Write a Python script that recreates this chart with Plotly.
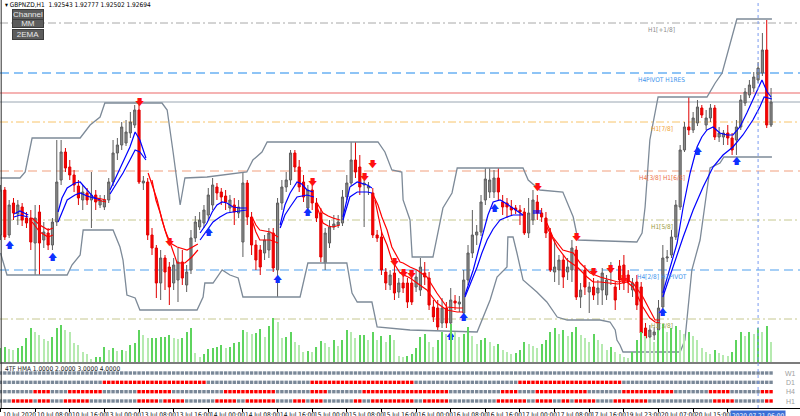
import plotly.graph_objects as go

# ---- price data (H1 bars, index 0 = 10 Jul 2020 00:00) ----
opens = [1.9135, 1.9180, 1.9135, 1.9167, 1.9156, 1.9163, 1.9152, 1.9152, 1.9127, 1.9158,
         1.9130, 1.9137, 1.9125, 1.9148, 1.9190, 1.9218, 1.9203, 1.9195, 1.9184, 1.9170,
         1.9177, 1.9170, 1.9175, 1.9165, 1.9163, 1.9170, 1.9188, 1.9217, 1.9225, 1.9227,
         1.9237, 1.9245, 1.9260, 1.9187, 1.9188, 1.9135, 1.9122, 1.9087, 1.9112, 1.9103,
         1.9087, 1.9090, 1.9108, 1.9085, 1.9100, 1.9132, 1.9143, 1.9147, 1.9155, 1.9165,
         1.9183, 1.9178, 1.9174, 1.9162, 1.9165, 1.9157, 1.9128, 1.9187, 1.9153, 1.9125,
         1.9120, 1.9117, 1.9120, 1.9137, 1.9100, 1.9167, 1.9183, 1.9190, 1.9217, 1.9203,
         1.9188, 1.9162, 1.9180, 1.9167, 1.9157, 1.9107, 1.9127, 1.9143, 1.9145, 1.9147,
         1.9173, 1.9187, 1.9210, 1.9203, 1.9185, 1.9182, 1.9177, 1.9135, 1.9133, 1.9098,
         1.9085, 1.9097, 1.9078, 1.9087, 1.9087, 1.9087, 1.9083, 1.9080, 1.9097, 1.9092,
         1.9063, 1.9062, 1.9047, 1.9062, 1.9047, 1.9069, 1.9066, 1.9057, 1.9090, 1.9117,
         1.9135, 1.9138, 1.9170, 1.9178, 1.9178, 1.9192, 1.9168, 1.9167, 1.9163, 1.9162,
         1.9160, 1.9158, 1.9137, 1.9150, 1.9168, 1.9157, 1.9152, 1.9137, 1.9098, 1.9100,
         1.9110, 1.9098, 1.9100, 1.9120, 1.9073, 1.9100, 1.9078, 1.9083, 1.9077, 1.9080,
         1.9075, 1.9098, 1.9083, 1.9104, 1.9105, 1.9095, 1.9080, 1.9088, 1.9083, 1.9042,
         1.9033, 1.9035, 1.9040, 1.9063, 1.9112, 1.9115, 1.9133, 1.9163, 1.9220, 1.9243,
         1.9240, 1.9247, 1.9262, 1.9245, 1.9252, 1.9262, 1.9233, 1.9233, 1.9237, 1.9232,
         1.9230, 1.9243, 1.9267, 1.9275, 1.9282, 1.9290, 1.9297, 1.9320, 1.9245]
highs = [1.9185, 1.9183, 1.9170, 1.9172, 1.9170, 1.9167, 1.9158, 1.9160, 1.9165, 1.9165,
         1.9148, 1.9142, 1.9152, 1.9230, 1.9230, 1.9222, 1.9210, 1.9200, 1.9190, 1.9185,
         1.9182, 1.9198, 1.9180, 1.9175, 1.9175, 1.9192, 1.9230, 1.9232, 1.9248, 1.9250,
         1.9258, 1.9265, 1.9266, 1.9194, 1.9192, 1.9142, 1.9125, 1.9120, 1.9115, 1.9108,
         1.9112, 1.9122, 1.9120, 1.9105, 1.9140, 1.9154, 1.9158, 1.9165, 1.9182, 1.9192,
         1.9187, 1.9182, 1.9180, 1.9175, 1.9172, 1.9170, 1.9198, 1.9190, 1.9158, 1.9130,
         1.9125, 1.9135, 1.9142, 1.9142, 1.9172, 1.9190, 1.9198, 1.9220, 1.9220, 1.9210,
         1.9195, 1.9185, 1.9185, 1.9172, 1.9162, 1.9142, 1.9150, 1.9155, 1.9155, 1.9180,
         1.9195, 1.9228, 1.9228, 1.9215, 1.9190, 1.9188, 1.9182, 1.9140, 1.9138, 1.9102,
         1.9100, 1.9105, 1.9092, 1.9095, 1.9092, 1.9095, 1.9100, 1.9112, 1.9108, 1.9098,
         1.9070, 1.9070, 1.9072, 1.9068, 1.9082, 1.9075, 1.9074, 1.9100, 1.9125, 1.9160,
         1.9145, 1.9175, 1.9202, 1.9202, 1.9200, 1.9202, 1.9175, 1.9172, 1.9170, 1.9165,
         1.9165, 1.9162, 1.9172, 1.9180, 1.9175, 1.9162, 1.9158, 1.9142, 1.9130, 1.9115,
         1.9115, 1.9112, 1.9130, 1.9124, 1.9087, 1.9105, 1.9088, 1.9092, 1.9090, 1.9102,
         1.9095, 1.9108, 1.9088, 1.9110, 1.9115, 1.9100, 1.9092, 1.9095, 1.9088, 1.9047,
         1.9045, 1.9043, 1.9070, 1.9125, 1.9120, 1.9140, 1.9170, 1.9225, 1.9248, 1.9273,
         1.9258, 1.9270, 1.9265, 1.9260, 1.9266, 1.9265, 1.9243, 1.9240, 1.9245, 1.9237,
         1.9250, 1.9275, 1.9282, 1.9290, 1.9298, 1.9308, 1.9337, 1.9350, 1.9282]
lows = [1.9130, 1.9130, 1.9132, 1.9150, 1.9145, 1.9144, 1.9142, 1.9120, 1.9095, 1.9095,
        1.9122, 1.9120, 1.9120, 1.9144, 1.9185, 1.9198, 1.9190, 1.9178, 1.9165, 1.9160,
        1.9165, 1.9142, 1.9160, 1.9162, 1.9160, 1.9167, 1.9184, 1.9210, 1.9220, 1.9224,
        1.9232, 1.9242, 1.9186, 1.9180, 1.9130, 1.9115, 1.9072, 1.9070, 1.9080, 1.9065,
        1.9080, 1.9068, 1.9085, 1.9078, 1.9096, 1.9128, 1.9140, 1.9142, 1.9150, 1.9160,
        1.9170, 1.9165, 1.9160, 1.9158, 1.9145, 1.9152, 1.9113, 1.9145, 1.9115, 1.9100,
        1.9095, 1.9110, 1.9112, 1.9098, 1.9073, 1.9160, 1.9178, 1.9185, 1.9198, 1.9178,
        1.9168, 1.9155, 1.9160, 1.9148, 1.9108, 1.9100, 1.9122, 1.9140, 1.9142, 1.9144,
        1.9170, 1.9184, 1.9192, 1.9175, 1.9143, 1.9175, 1.9132, 1.9128, 1.9095, 1.9080,
        1.9080, 1.9070, 1.9072, 1.9077, 1.9062, 1.9065, 1.9078, 1.9074, 1.9085, 1.9060,
        1.9048, 1.9040, 1.9042, 1.9042, 1.9040, 1.9060, 1.9058, 1.9054, 1.9085, 1.9112,
        1.9125, 1.9134, 1.9165, 1.9172, 1.9172, 1.9170, 1.9155, 1.9152, 1.9154, 1.9156,
        1.9145, 1.9135, 1.9132, 1.9145, 1.9150, 1.9148, 1.9132, 1.9098, 1.9088, 1.9085,
        1.9082, 1.9090, 1.9088, 1.9070, 1.9062, 1.9075, 1.9057, 1.9070, 1.9065, 1.9065,
        1.9070, 1.9085, 1.9060, 1.9080, 1.9080, 1.9077, 1.9073, 1.9060, 1.9032, 1.9028,
        1.9025, 1.9030, 1.9035, 1.9060, 1.9108, 1.9112, 1.9130, 1.9160, 1.9218, 1.9235,
        1.9237, 1.9244, 1.9252, 1.9240, 1.9248, 1.9230, 1.9228, 1.9225, 1.9225, 1.9215,
        1.9215, 1.9240, 1.9264, 1.9272, 1.9278, 1.9287, 1.9294, 1.9242, 1.9243]
closes = [1.9180, 1.9133, 1.9165, 1.9157, 1.9165, 1.9150, 1.9147, 1.9128, 1.9152, 1.9127,
          1.9138, 1.9125, 1.9148, 1.9188, 1.9218, 1.9202, 1.9195, 1.9185, 1.9172, 1.9178,
          1.9170, 1.9175, 1.9168, 1.9170, 1.9170, 1.9188, 1.9217, 1.9225, 1.9243, 1.9238,
          1.9248, 1.9260, 1.9188, 1.9189, 1.9135, 1.9122, 1.9087, 1.9112, 1.9098, 1.9083,
          1.9105, 1.9108, 1.9092, 1.9098, 1.9132, 1.9148, 1.9150, 1.9160, 1.9175, 1.9185,
          1.9177, 1.9173, 1.9168, 1.9170, 1.9158, 1.9163, 1.9187, 1.9153, 1.9125, 1.9110,
          1.9103, 1.9130, 1.9137, 1.9102, 1.9167, 1.9183, 1.9190, 1.9217, 1.9203, 1.9183,
          1.9173, 1.9180, 1.9167, 1.9152, 1.9113, 1.9137, 1.9143, 1.9146, 1.9148, 1.9173,
          1.9187, 1.9210, 1.9198, 1.9183, 1.9187, 1.9184, 1.9135, 1.9132, 1.9100, 1.9087,
          1.9095, 1.9077, 1.9087, 1.9082, 1.9068, 1.9068, 1.9093, 1.9103, 1.9093, 1.9065,
          1.9053, 1.9043, 1.9062, 1.9047, 1.9070, 1.9067, 1.9068, 1.9090, 1.9117, 1.9135,
          1.9138, 1.9168, 1.9191, 1.9190, 1.9192, 1.9178, 1.9163, 1.9163, 1.9160, 1.9160,
          1.9158, 1.9137, 1.9157, 1.9170, 1.9157, 1.9153, 1.9137, 1.9100, 1.9103, 1.9110,
          1.9093, 1.9103, 1.9122, 1.9073, 1.9080, 1.9083, 1.9083, 1.9075, 1.9082, 1.9097,
          1.9090, 1.9102, 1.9070, 1.9090, 1.9087, 1.9088, 1.9087, 1.9065, 1.9037, 1.9032,
          1.9040, 1.9038, 1.9062, 1.9112, 1.9113, 1.9133, 1.9165, 1.9220, 1.9243, 1.9240,
          1.9252, 1.9263, 1.9255, 1.9252, 1.9262, 1.9233, 1.9237, 1.9237, 1.9232, 1.9220,
          1.9243, 1.9270, 1.9278, 1.9285, 1.9293, 1.9302, 1.9320, 1.9245, 1.9268]
volumes = [14, 15, 13, 12, 14, 16, 24, 34, 30, 27,
           23, 21, 25, 34, 37, 32, 30, 19, 17, 10,
           8, 3, 5, 5, 15, 12, 14, 11, 12, 11,
           17, 19, 32, 27, 24, 24, 24, 25, 25, 27,
           24, 23, 24, 30, 34, 9, 5, 8, 13, 14,
           15, 17, 14, 15, 19, 20, 32, 30, 28, 29,
           33, 25, 36, 44, 40, 24, 25, 30, 20, 17,
           10, 11, 10, 15, 21, 19, 15, 22, 16, 22,
           32, 30, 24, 27, 27, 22, 30, 22, 26, 20,
           27, 22, 6, 5, 6, 8, 14, 25, 28, 20,
           15, 22, 30, 28, 38, 30, 25, 28, 35, 26,
           18, 22, 24, 20, 16, 18, 12, 10, 8, 9,
           12, 20, 18, 16, 14, 18, 22, 30, 34, 28,
           32, 26, 30, 35, 27, 24, 20, 28, 22, 18,
           12, 15, 10, 8, 5, 4, 10, 22, 30, 26,
           24, 20, 32, 38, 30, 34, 36, 32, 28, 30,
           26, 22, 14, 10, 8, 12, 9, 7, 6, 10,
           22, 30, 26, 30, 28, 34, 30, 36, 20]
bars = list(range(len(closes)))

time_ticks = list(range(0, 169, 8))
time_labels = ["10 Jul 2020", "10 Jul 08:00", "10 Jul 16:00", "13 Jul 00:00", "13 Jul 08:00",
               "13 Jul 16:00", "14 Jul 00:00", "14 Jul 08:00", "14 Jul 16:00", "15 Jul 00:00",
               "15 Jul 08:00", "15 Jul 16:00", "16 Jul 00:00", "16 Jul 08:00", "16 Jul 16:00",
               "17 Jul 00:00", "17 Jul 08:00", "17 Jul 16:00", "19 Jul 23:00", "20 Jul 07:00",
               "20 Jul 15:00", "20 Jul 23:00"]
cursor_bar = 175
cursor_label = "2020.07.21 06:00"

# ---- signal arrows ----
buy_bars = [2, 12, 48, 64, 71, 104, 107, 114, 153, 161, 170]
buy_prices = [1.9124, 1.9112, 1.9137, 1.9090, 1.9157, 1.9033, 1.9052, 1.9161, 1.9057, 1.9218, 1.9208]
sell_bars = [32, 39, 72, 84, 86, 91, 93, 95, 124, 133, 137, 141, 144]
sell_prices = [1.9267, 1.9127, 1.9187, 1.9192, 1.9205, 1.9107, 1.9096, 1.9095, 1.9182, 1.9132,
               1.9097, 1.9100, 1.9090]

# ---- 2EMA lines (None = gap between trend segments) ----
blue_fast_x = [3.1, 4.5, 6.4, None,
               13.3, 14.2, 15.4, 17.2, 18.4, 20.0, 21.4, 23.0, None,
               25.3, 26.9, 28.3, 29.9, 31.1, 32.2, 33.6, None,
               46.1, 47.7, 48.9, 50.0, 51.2, 52.3, 53.7, 55.3, 56.9, None,
               64.6, 65.7, 66.9, 68.5, 69.6, 70.8, 72.2, None,
               79.1, 80.0, 80.7, 82.4, 84.7, 85.8, None,
               107.3, 108.2, 109.2, 110.3, 111.5, 112.6, 113.8, 115.4, 117.0, 118.4, 119.5, 120.7, None,
               123.0, 124.9, None,
               153.0, 154.6, 156.3, 157.7, 159.3, 160.9, 162.0, 163.2, 164.6, 166.2, 167.8, 169.2,
               170.8, 172.4, 173.8, 175.0, 175.9, 177.1, 178.0]
blue_fast_y = [1.9156, 1.9159, 1.9155, None,
               1.9158, 1.9172, 1.9182, 1.9187, 1.9188, 1.9180, 1.9173, 1.9170, None,
               1.9180, 1.9195, 1.9208, 1.9223, 1.9238, 1.9230, 1.9212, None,
               1.9137, 1.9147, 1.9158, 1.9165, 1.9168, 1.9167, 1.9163, 1.9162, 1.9162, None,
               1.9145, 1.9165, 1.9177, 1.9188, 1.9186, 1.9180, 1.9178, None,
               1.9153, 1.9170, 1.9183, 1.9188, 1.9185, 1.9182, None,
               1.9075, 1.9087, 1.9100, 1.9118, 1.9137, 1.9155, 1.9168, 1.9170, 1.9166, 1.9162, 1.9158, 1.9155, None,
               1.9159, 1.9159, None,
               1.9077, 1.9100, 1.9127, 1.9163, 1.9197, 1.9223, 1.9233, 1.9240, 1.9243, 1.9237, 1.9235, 1.9235,
               1.9243, 1.9257, 1.9270, 1.9282, 1.9290, 1.9278, 1.9273]
blue_slow_x = [3.1, 4.5, 6.4, None,
               13.3, 14.2, 15.4, 17.2, 18.4, 20.0, 21.4, 23.0, None,
               25.3, 26.9, 28.3, 29.9, 31.1, 32.2, 33.6, None,
               46.1, 47.7, 49.1, 50.7, 52.3, 53.7, 55.3, 56.9, None,
               64.6, 65.7, 66.9, 68.5, 70.8, 72.4, None,
               79.1, 80.7, 82.4, 84.7, 85.8, None,
               107.3, 108.7, 110.1, 111.2, 112.4, 113.8, 115.4, 117.0, 118.4, 120.7, None,
               123.0, 124.9, None,
               153.0, 155.3, 157.7, 160.0, 162.3, 164.6, 166.9, 169.2, 171.5, 173.8, 175.4, 176.4, 177.3, 178.2]
blue_slow_y = [1.9153, 1.9155, 1.9153, None,
               1.9148, 1.9158, 1.9170, 1.9175, 1.9177, 1.9174, 1.9172, 1.9171, None,
               1.9176, 1.9187, 1.9197, 1.9210, 1.9220, 1.9218, 1.9210, None,
               1.9130, 1.9140, 1.9148, 1.9153, 1.9157, 1.9158, 1.9159, 1.9160, None,
               1.9142, 1.9155, 1.9163, 1.9173, 1.9175, 1.9173, None,
               1.9150, 1.9173, 1.9178, 1.9178, 1.9177, None,
               1.9073, 1.9088, 1.9103, 1.9117, 1.9130, 1.9141, 1.9150, 1.9153, 1.9155, 1.9155, None,
               1.9157, 1.9157, None,
               1.9073, 1.9103, 1.9133, 1.9160, 1.9183, 1.9203, 1.9215, 1.9223, 1.9235, 1.9250, 1.9263, 1.9273, 1.9272, 1.9271]
red_fast_x = [7.3, 9.1, 11.0, 12.1, None,
              22.3, 24.4, None,
              34.1, 35.0, 36.2, 37.3, 38.5, 39.6, 40.8, 43.1, 44.5, 45.6, None,
              58.1, 59.0, 59.9, 62.3, 64.1, None,
              73.1, 74.5, 75.7, 76.8, 78.4, None,
              86.1, 87.2, 88.1, 89.3, 90.4, 92.3, 93.0, 94.6, 96.2, 98.5, 100.8, 103.1, 105.5, 106.8, None,
              126.2, 127.6, 129.9, 132.3, 133.9, 136.2, 138.5, 140.8, 142.6, 144.7, 146.1, 148.4, 150.0, 151.2, 152.3]
red_fast_y = [1.9152, 1.9145, 1.9140, 1.9142, None,
              1.9172, 1.9170, None,
              1.9197, 1.9185, 1.9170, 1.9150, 1.9133, 1.9126, 1.9123, 1.9120, 1.9123, 1.9126, None,
              1.9153, 1.9145, 1.9140, 1.9138, 1.9133, None,
              1.9167, 1.9157, 1.9154, 1.9152, 1.9150, None,
              1.9175, 1.9165, 1.9153, 1.9140, 1.9123, 1.9108, 1.9107, 1.9103, 1.9100, 1.9093, 1.9077, 1.9063, 1.9062, 1.9062, None,
              1.9147, 1.9133, 1.9120, 1.9117, 1.9107, 1.9097, 1.9093, 1.9090, 1.9088, 1.9090, 1.9087, 1.9073, 1.9060, 1.9050, 1.9050]
red_slow_x = [7.3, 9.1, 11.0, 12.1, None,
              22.3, 24.4, None,
              35.0, 35.9, 36.9, 38.0, 39.2, 40.8, 42.6, 44.2, 45.6, None,
              58.1, 59.0, 59.9, 62.3, 64.1, None,
              73.1, 74.5, 75.7, 76.8, 78.4, None,
              86.5, 88.1, 89.3, 90.4, 92.3, 94.6, 96.2, 98.5, 100.8, 103.1, 105.5, 106.8, None,
              126.2, 128.6, 130.9, 133.2, 135.5, 136.9, 138.5, 140.8, 142.6, 144.7, 146.1, 148.4, 150.0, 151.2, 152.3]
red_slow_y = [1.9148, 1.9138, 1.9133, 1.9135, None,
              1.9170, 1.9168, None,
              1.9190, 1.9170, 1.9157, 1.9140, 1.9127, 1.9107, 1.9107, 1.9113, 1.9120, None,
              1.9150, 1.9138, 1.9130, 1.9130, 1.9127, None,
              1.9163, 1.9147, 1.9144, 1.9143, 1.9145, None,
              1.9170, 1.9137, 1.9125, 1.9110, 1.9097, 1.9092, 1.9087, 1.9080, 1.9067, 1.9060, 1.9058, 1.9058, None,
              1.9143, 1.9123, 1.9110, 1.9103, 1.9093, 1.9088, 1.9088, 1.9087, 1.9086, 1.9088, 1.9083, 1.9063, 1.9052, 1.9048, 1.9047]

# ---- channel ----
upper_x = [0, 4.5, 5.7, 7.3, 18.4, 20.7, 23.0, 24.1, 37.3, 38.5, 39.9, 41.5, 42.6, 47.7, 56.9, 58.3,
           60.4, 61.6, 87.2, 88.8, 90.4, 92.7, 93.0, 94.6, 95.1, 99.9, 102.2, 104.3, 105.5, 120.7,
           121.9, 124.6, 129.9, 132.3, 133.4, 147.0, 148.2, 148.9, 150.0, 151.9, 163.2, 165.1,
           166.7, 168.1, 170.1, 178.2]
upper_y = [1.9192, 1.9192, 1.9198, 1.9232, 1.9232, 1.9245, 1.9253, 1.9267, 1.9267, 1.9260, 1.9217,
           1.9165, 1.9192, 1.9193, 1.9198, 1.9210, 1.9218, 1.9228, 1.9228, 1.9218, 1.9200, 1.9198,
           1.9170, 1.9150, 1.9113, 1.9113, 1.9162, 1.9177, 1.9202, 1.9202, 1.9190, 1.9180, 1.9178,
           1.9153, 1.9130, 1.9128, 1.9137, 1.9163, 1.9230, 1.9273, 1.9273, 1.9287, 1.9297, 1.9320,
           1.9351, 1.9351]
lower_x = [0, 1.5, 15.4, 16.5, 18.4, 19.1, 26.0, 27.6, 28.3, 29.2, 31.1, 32.2, 45.4, 46.8, 47.2,
           49.1, 51.2, 53.0, 54.9, 56.0, 69.2, 71.0, 80.0, 81.2, 82.4, 85.8, 87.0, 94.6, 110.1,
           113.1, 114.7, 117.0, 117.2, 118.4, 119.3, 120.7, 123.9, 126.2, 128.6, 130.9, 138.5,
           140.8, 142.0, 142.4, 143.1, 143.8, 157.0, 158.1, 159.7, 161.6, 163.2, 163.9, 166.2,
           167.1, 178.2]
lower_y = [1.9117, 1.9095, 1.9095, 1.9105, 1.9115, 1.9140, 1.9140, 1.9123, 1.9110, 1.9075, 1.9072,
           1.9060, 1.9060, 1.9073, 1.9087, 1.9087, 1.9100, 1.9095, 1.9092, 1.9073, 1.9073, 1.9107,
           1.9107, 1.9077, 1.9068, 1.9068, 1.9043, 1.9040, 1.9038, 1.9070, 1.9093, 1.9103, 1.9133,
           1.9133, 1.9117, 1.9090, 1.9078, 1.9068, 1.9053, 1.9050, 1.9050, 1.9048, 1.9040, 1.9030,
           1.9025, 1.9018, 1.9018, 1.9030, 1.9100, 1.9130, 1.9180, 1.9202, 1.9207, 1.9213, 1.9213]

# ---- horizontal levels ----
level_names = ["H1[+1/8]", "H4PIVOT H1RES", "H1[7/8]", "H4[3/8] H1[6/8]", "H1[5/8]",
               "H4[2/8] H1PIVOT", "H1[3/8]"]
level_prices = [1.9347, 1.9297, 1.9248, 1.9199, 1.9150, 1.9100, 1.9051]
level_line_colors = ["#a8a8a8", "#8ec4f6", "#f8c46a", "#f2a07e", "#c6c890", "#a6cff6", "#c6c890"]
level_text_colors = ["#8a8a8a", "#3d94ec", "#f0a030", "#ec7048", "#9a9a3a", "#3d94ec", "#9a9a3a"]
level_dash = ["8px,3px,2px,3px", "9px,5px", "8px,3px,2px,3px", "9px,5px", "8px,3px,2px,3px",
              "9px,5px", "8px,3px,2px,3px"]
level_width = [1, 2, 1, 1.2, 1, 2, 1]
ask_price = 1.9277
bid_price = closes[-1]

# ---- 4TF HMA state (runs of bars where the HMA is falling) ----
hma_rows = ["W1", "D1", "H4", "H1"]
w1_red = []
d1_red = [(24, 47), (72, 95), (120, 143)]
h4_red = [(8, 11), (16, 23), (32, 39), (52, 63), (72, 75), (84, 103), (116, 119), (124, 135),
          (144, 155), (164, 168), (176, 178)]
h1_red = [(3, 7), (9, 11), (15, 20), (32, 36), (38, 42), (50, 54), (57, 63), (68, 70), (72, 74),
          (82, 83), (86, 95), (98, 103), (115, 121), (124, 127), (130, 131), (133, 137),
          (142, 149), (165, 169), (177, 178)]

PITCH = 4.329
X_MIN = -0.5 / PITCH
X_MAX = X_MIN + 800 / PITCH
H = 416
SMALL = "Liberation Sans Narrow, DejaVu Sans Condensed, Liberation Sans"


def py(px):
    # paper y from a pixel row
    return 1 - px / H


def expand(runs):
    state = [0] * len(bars)
    for a, b in runs:
        for i in range(a, b + 1):
            state[i] = 1
    return state


fig = go.Figure()

# volumes at bottom of main pane
vol_colors = []
for i, v in enumerate(volumes):
    if i > 0 and v < volumes[i - 1]:
        vol_colors.append("#b6eab0")
    else:
        vol_colors.append("#5ed45e")
fig.add_trace(go.Bar(x=bars, y=volumes, width=0.25, marker=dict(color=vol_colors, line_width=0),
                     yaxis="y3", hoverinfo="skip"))

# channel
fig.add_trace(go.Scatter(x=upper_x, y=upper_y, mode="lines", line=dict(color="#7d8a98", width=1.3)))
fig.add_trace(go.Scatter(x=lower_x, y=lower_y, mode="lines", line=dict(color="#7d8a98", width=1.3)))

fig.add_trace(go.Candlestick(
    x=bars, open=opens, high=highs, low=lows, close=closes,
    increasing=dict(line=dict(color="#5e5e5e", width=1), fillcolor="#8a8a8a"),
    decreasing=dict(line=dict(color="#e00000", width=1), fillcolor="#ff0000"),
    whiskerwidth=0,
))

# 2EMA
fig.add_trace(go.Scatter(x=blue_fast_x, y=blue_fast_y, mode="lines", line=dict(color="#0000ff", width=1.2)))
fig.add_trace(go.Scatter(x=blue_slow_x, y=blue_slow_y, mode="lines", line=dict(color="#0000ff", width=1.2)))
fig.add_trace(go.Scatter(x=red_fast_x, y=red_fast_y, mode="lines", line=dict(color="#ff0000", width=1.2)))
fig.add_trace(go.Scatter(x=red_slow_x, y=red_slow_y, mode="lines", line=dict(color="#ff0000", width=1.2)))

# arrows
fig.add_trace(go.Scatter(x=buy_bars, y=buy_prices, mode="text", text=["🡅"] * len(buy_bars),
                         textfont=dict(family="DejaVu Sans", size=9, color="#1030ff")))
fig.add_trace(go.Scatter(x=sell_bars, y=sell_prices, mode="text", text=["🡇"] * len(sell_bars),
                         textfont=dict(family="DejaVu Sans", size=9, color="#ff1010")))

# 4TF HMA rows
for row_val, runs in zip([4, 3, 2, 1], [w1_red, d1_red, h4_red, h1_red]):
    st = expand(runs)
    fig.add_trace(go.Scatter(
        x=bars, y=[row_val] * len(bars), yaxis="y2", mode="markers",
        marker=dict(symbol="square", size=3.4, line_width=0,
                    color=["#ff0000" if s else "#7a8898" for s in st])))

shapes = []
for p, c, d, w in zip(level_prices, level_line_colors, level_dash, level_width):
    shapes.append(dict(type="line", xref="paper", x0=0, x1=1, yref="y", y0=p, y1=p,
                       line=dict(color=c, width=w, dash=d), layer="below"))
shapes.append(dict(type="line", xref="paper", x0=0, x1=1, yref="y", y0=ask_price, y1=ask_price,
                   line=dict(color="#f29a9a", width=1.5), layer="below"))
shapes.append(dict(type="line", xref="paper", x0=0, x1=1, yref="y", y0=bid_price, y1=bid_price,
                   line=dict(color="#9aa6b2", width=1), layer="below"))
# pane separator and frame
shapes.append(dict(type="line", xref="paper", x0=0, x1=1, yref="paper", y0=py(363), y1=py(363),
                   line=dict(color="#505050", width=1.5)))
shapes.append(dict(type="line", xref="paper", x0=0.0015, x1=0.0015, yref="paper", y0=py(408), y1=1,
                   line=dict(color="#303030", width=1)))
shapes.append(dict(type="line", xref="x", x0=cursor_bar, x1=cursor_bar, yref="paper", y0=py(408), y1=1,
                   line=dict(color="#7a9cf0", width=1, dash="dot")))

ann = []
ann.append(dict(xref="paper", yref="paper", x=3 / 800, y=py(5), xanchor="left", yanchor="middle",
                text="▾ GBPNZD,H1  1.92543 1.92777 1.92502 1.92694", showarrow=False,
                font=dict(family=SMALL, size=6.5, color="#000000")))
for label, cy, hgt in [("Channel", 14.5, 9), ("MM", 23.5, 7), ("2EMA", 34, 9)]:
    ann.append(dict(xref="paper", yref="paper", x=28 / 800, y=py(cy), xanchor="center", yanchor="middle",
                    text=label, showarrow=False, width=30, height=hgt, borderpad=0,
                    bgcolor="#5c5c5c", bordercolor="#3c3c3c", borderwidth=1,
                    font=dict(family="Liberation Sans", size=8, color="#e8e8e8")))
for name, p, c in zip(level_names, level_prices, level_text_colors):
    ann.append(dict(xref="x", yref="y", x=152.8, y=p, xanchor="center", yanchor="top", yshift=-1,
                    text=name, showarrow=False, font=dict(family=SMALL, size=6.5, color=c)))
ann.append(dict(xref="paper", yref="paper", x=3 / 800, y=py(368.5), xanchor="left", yanchor="middle",
                text="4TF HMA 1.0000 2.0000 3.0000 4.0000", showarrow=False,
                font=dict(family=SMALL, size=6.5, color="#202020")))
for name, rv in zip(hma_rows, [4, 3, 2, 1]):
    ann.append(dict(xref="paper", yref="y2", x=790 / 800, y=rv, xanchor="center", yanchor="middle",
                    text=name, showarrow=False, font=dict(family="Liberation Sans", size=7, color="#a0a0a0")))
for tb, tl in zip(time_ticks, time_labels):
    ann.append(dict(xref="x", yref="paper", x=tb, y=py(409.5), xanchor="left", yanchor="top", xshift=1,
                    text=tl, showarrow=False, borderpad=0,
                    font=dict(family=SMALL, size=6.5, color="#000000")))
ann.append(dict(xref="x", yref="paper", x=cursor_bar, y=py(409.5), xanchor="center", yanchor="top",
                text=cursor_label, showarrow=False, bgcolor="#3b6fd6", borderpad=1,
                font=dict(family=SMALL, size=6.5, color="#ffffff")))

fig.update_layout(
    width=800, height=416, margin=dict(l=0, r=0, t=0, b=0),
    paper_bgcolor="#ffffff", plot_bgcolor="#ffffff", showlegend=False,
    boxgap=0.3,
    xaxis=dict(range=[X_MIN, X_MAX], anchor="y2", showgrid=False, zeroline=False,
               showticklabels=False, ticks="outside", ticklen=3, tickcolor="#000000",
               tickvals=time_ticks, showline=True, linecolor="#000000", linewidth=1,
               rangeslider=dict(visible=False)),
    yaxis=dict(domain=[py(362), 1], range=[1.9008, 1.9370], visible=False),
    yaxis2=dict(domain=[py(408), py(364)], range=[0.25, 4.964], visible=False),
    yaxis3=dict(overlaying="y", range=[0, 362], visible=False),
    shapes=shapes, annotations=ann,
)

fig.write_html("out.html", config={"displayModeBar": False},
               post_script="document.body.style.margin='0px';")
